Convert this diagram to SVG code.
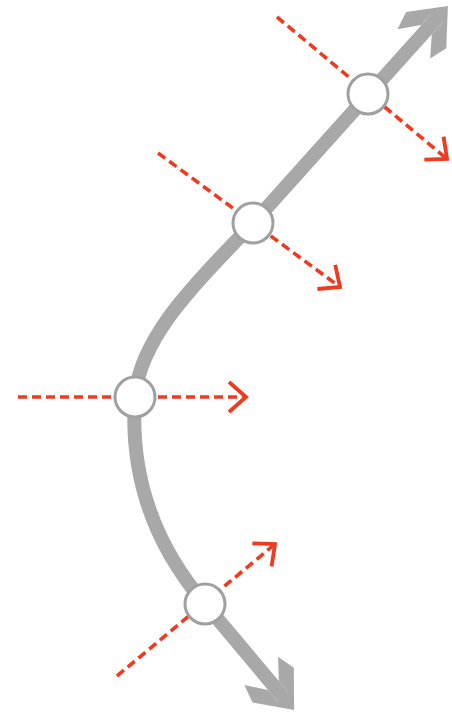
<svg xmlns="http://www.w3.org/2000/svg" width="452" height="714" viewBox="0 0 452 714">
  <style>
    .track { fill: none; stroke: #a8a8a8; stroke-width: 14; stroke-linecap: butt; stroke-linejoin: round; }
    .normal { fill: none; stroke: #f03a20; stroke-width: 3.6; stroke-dasharray: 9 5; }
    .node { fill: #ffffff; stroke: #a0a0a0; stroke-width: 3; }
    .chev { fill: none; stroke: #f03a20; stroke-width: 3.8; stroke-linejoin: miter; stroke-linecap: butt; }
    .head { fill: #a8a8a8; stroke: none; }
  </style>
  <defs>
    <marker id="bigArrow" markerUnits="userSpaceOnUse" orient="auto-start-reverse" markerWidth="90" markerHeight="90" refX="0" refY="0" viewBox="-45 -45 90 90" overflow="visible">
      <path class="head" d="M15,0 L-17.5,-27 L-36,-22 L-17,-7 L-2,-7 L-2,7 L-17,7 L-36,22 L-17.5,27 Z"/>
    </marker>
    <marker id="chevron" markerUnits="userSpaceOnUse" orient="auto" markerWidth="40" markerHeight="40" refX="0" refY="0" viewBox="-25 -20 40 40" overflow="visible">
      <path class="chev" d="M-17,-15 L0,0 L-17,15"/>
    </marker>
  </defs>

  <g id="connectors">
    <path id="track" class="track" d="M437.9,17.1 L253,223 C215,265 140,330 135,397 C130,470 150,540 205,604 L284.4,698.5" marker-start="url(#bigArrow)" marker-end="url(#bigArrow)"/>
    <line id="normal-1" class="normal" x1="277" y1="17" x2="447" y2="159" marker-end="url(#chevron)"/>
    <line id="normal-2" class="normal" x1="158" y1="153" x2="340" y2="287" marker-end="url(#chevron)"/>
    <line id="normal-3" class="normal" x1="18" y1="397" x2="246" y2="397" marker-end="url(#chevron)"/>
    <line id="normal-4" class="normal" x1="117" y1="676" x2="275" y2="544" marker-end="url(#chevron)"/>
  </g>

  <g id="node-1"><circle class="node" cx="368" cy="94" r="20"/></g>
  <g id="node-2"><circle class="node" cx="253" cy="223" r="20"/></g>
  <g id="node-3"><circle class="node" cx="135" cy="397" r="20"/></g>
  <g id="node-4"><circle class="node" cx="205" cy="604" r="20"/></g>
</svg>
